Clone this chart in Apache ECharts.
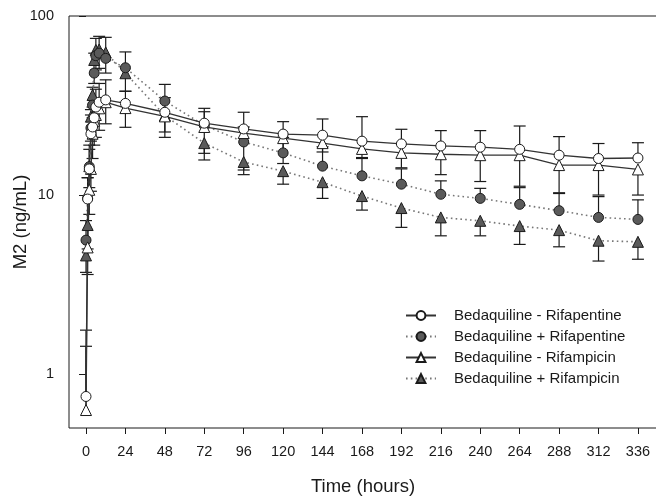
<!DOCTYPE html>
<html>
<head>
<meta charset="utf-8">
<script src="https://cdn.jsdelivr.net/npm/echarts@6/dist/echarts.min.js"></script>
<style>
  html, body { margin: 0; padding: 0; background: #fff; }
  #chart { width: 656px; height: 500px; }
</style>
</head>
<body>
<div id="chart"></div>
<script>
// sampling times (hours)
var times = [0, 1, 2, 3, 4, 5, 6, 8, 12, 24, 48, 72, 96, 120, 144, 168, 192, 216, 240, 264, 288, 312, 336];

// mean M2 concentrations (ng/mL)
var bdqMinusRpt = [0.75, 9.5, 14, 22, 24, 27, 31, 33, 34, 32.5, 29, 25.2, 23.4, 21.9, 21.6, 20.0, 19.3, 18.8, 18.5, 18.0, 16.7, 16.0, 16.1];
var bdqPlusRpt  = [5.6, 9.6, 14.4, 23.7, 31.8, 48, 60, 62, 58, 51.4, 33.5, 24.5, 19.8, 17.2, 14.5, 12.8, 11.5, 10.1, 9.58, 8.87, 8.18, 7.5, 7.31];
var bdqMinusRif = [0.63, 5.1, 10.7, 14, 22, 26, 28, 30.5, 33, 30.6, 27.5, 24.0, 22.2, 20.8, 19.5, 18.1, 17.2, 16.9, 16.7, 16.7, 14.7, 14.7, 13.9];
var bdqPlusRif  = [4.6, 6.8, 14.5, 27.4, 36.2, 56.8, 64.6, 65, 62.6, 47.9, 27.8, 19.5, 15.3, 13.6, 11.8, 9.87, 8.46, 7.5, 7.18, 6.71, 6.37, 5.56, 5.48];

// end of the error bar (circles: upper SD, triangles: lower SD)
var bdqMinusRptErr = [1.76, 12.5, 18, 28, 31, 34, 39, 42, 44, 38, 35, 30.5, 29.0, 25.7, 26.6, 27.4, 23.3, 22.9, 22.9, 24.3, 21.2, 19.4, 19.6];
var bdqPlusRptErr  = [7.2, 12.5, 19, 30, 40, 62, 75, 77, 76, 63, 41.5, 29.2, 24, 21, 18.6, 16.0, 14.0, 12.0, 10.9, 11.0, 10.2, 9.8, 9.4];
var bdqMinusRifErr = [1.43, 3.6, 7.8, 10.5, 16, 19, 21, 23, 25, 23.9, 22.5, 17.1, 13.8, 15, 17.4, 16.2, 14.2, 13.0, 11.9, 11.2, 10.3, 10.0, 10.0];
var bdqPlusRifErr  = [3.7, 5, 11, 20, 27, 42, 50, 51, 48, 38, 21, 15.7, 13.0, 11.5, 9.58, 8.24, 6.6, 5.92, 5.92, 5.3, 5.14, 4.28, 4.38];

var xTicks = [0, 24, 48, 72, 96, 120, 144, 168, 192, 216, 240, 264, 288, 312, 336];
var yTicks = [1, 10, 100];

var names = ['Bedaquiline - Rifapentine', 'Bedaquiline + Rifapentine', 'Bedaquiline - Rifampicin', 'Bedaquiline + Rifampicin'];

var font = "'Liberation Sans', Arial, sans-serif";
var ink = '#1a1a1a';
var darkFill = '#5a5a5a';

function pairs(vals) {
  return times.map(function (t, i) { return [t, vals[i]]; });
}
function triples(vals, ends) {
  return times.map(function (t, i) { return [t, vals[i], ends[i]]; });
}

function errorSeries(vals, ends) {
  return {
    type: 'custom',
    z: 1,
    silent: true,
    encode: { x: 0, y: [1, 2] },
    data: triples(vals, ends),
    renderItem: function (params, api) {
      var p0 = api.coord([api.value(0), api.value(1)]);
      var p1 = api.coord([api.value(0), api.value(2)]);
      var w = 6;
      var style = { stroke: ink, lineWidth: 1.2 };
      return {
        type: 'group',
        children: [
          { type: 'line', shape: { x1: p0[0], y1: p0[1], x2: p1[0], y2: p1[1] }, style: style },
          { type: 'line', shape: { x1: p1[0] - w, y1: p1[1], x2: p1[0] + w, y2: p1[1] }, style: style }
        ]
      };
    }
  };
}

function lineSeries(name, vals, symbol, size, fill, dotted) {
  return {
    name: name,
    type: 'line',
    z: 3,
    data: pairs(vals),
    symbol: symbol,
    symbolSize: size,
    showAllSymbol: true,
    itemStyle: { color: fill, borderColor: ink, borderWidth: 1 },
    lineStyle: dotted
      ? { color: '#777', width: 1.6, type: [1.6, 3.2] }
      : { color: '#333', width: 1.3, type: 'solid' },
    emphasis: { disabled: true },
    animation: false
  };
}

var chart = echarts.init(document.getElementById('chart'));

var option = {
  animation: false,
  grid: {
    left: 69, top: 16, right: -1, bottom: 72,
    containLabel: false,
    outerBoundsMode: 'none',
    show: true, borderColor: ink, borderWidth: 1, backgroundColor: 'transparent'
  },
  legend: {
    data: names,
    orient: 'vertical',
    left: 400,
    top: 303,
    itemWidth: 30,
    itemHeight: 11,
    itemGap: 6,
    textStyle: { fontFamily: font, fontSize: 15, color: ink, padding: [0, 0, 0, 13] },
    selectedMode: false
  },
  xAxis: {
    type: 'value',
    min: -10.35,
    max: 347.6,
    name: 'Time (hours)',
    nameLocation: 'middle',
    nameGap: 49,
    nameTextStyle: { fontFamily: font, fontSize: 18.5, color: ink },
    axisLine: { show: false },
    axisTick: { show: true, inside: false, length: 6, customValues: xTicks, lineStyle: { color: ink } },
    axisLabel: { margin: 16, customValues: xTicks, fontFamily: font, fontSize: 14.5, color: ink },
    splitLine: { show: false }
  },
  yAxis: {
    type: 'log',
    logBase: 10,
    min: 0.5,
    max: 100,
    name: 'M2 (ng/mL)',
    nameLocation: 'middle',
    nameGap: 39,
    nameMoveOverlap: false,
    nameTextStyle: { fontFamily: font, fontSize: 18.5, color: ink },
    axisLine: { show: false },
    axisTick: { show: true, inside: false, length: 7, customValues: yTicks, lineStyle: { color: ink } },
    axisLabel: { margin: 15, customValues: yTicks, fontFamily: font, fontSize: 14.5, color: ink },
    minorTick: { show: false },
    splitLine: { show: false }
  },
  series: [
    errorSeries(bdqPlusRif, bdqPlusRifErr),
    errorSeries(bdqPlusRpt, bdqPlusRptErr),
    errorSeries(bdqMinusRif, bdqMinusRifErr),
    errorSeries(bdqMinusRpt, bdqMinusRptErr),
    lineSeries(names[3], bdqPlusRif, 'triangle', 11, darkFill, true),
    lineSeries(names[1], bdqPlusRpt, 'circle', 10, darkFill, true),
    lineSeries(names[2], bdqMinusRif, 'triangle', 11, '#fff', false),
    lineSeries(names[0], bdqMinusRpt, 'circle', 10, '#fff', false)
  ]
};

chart.setOption(option);
</script>
</body>
</html>
